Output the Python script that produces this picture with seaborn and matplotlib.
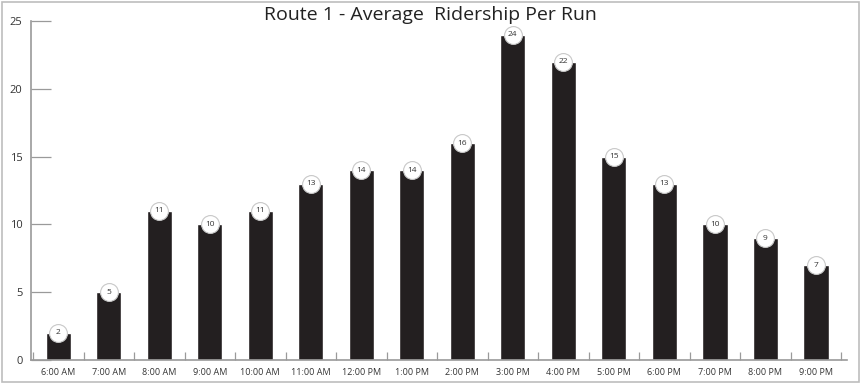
import numpy as np
import pandas as pd
import matplotlib
matplotlib.use('Agg')
import matplotlib.pyplot as plt
import seaborn as sns

# Data
times = ['6:00 AM', '7:00 AM', '8:00 AM', '9:00 AM', '10:00 AM', '11:00 AM', '12:00 PM',
         '1:00 PM', '2:00 PM', '3:00 PM', '4:00 PM', '5:00 PM', '6:00 PM', '7:00 PM',
         '8:00 PM', '9:00 PM']
riders = [2, 5, 11, 10, 11, 13, 14, 14, 16, 24, 22, 15, 13, 10, 9, 7]
yticks = [0, 5, 10, 15, 20, 25]

df = pd.DataFrame({'time': times, 'riders': riders})

sns.set_style('white')
plt.rcParams['font.family'] = ['Open Sans', 'DejaVu Sans']

fig = plt.figure(figsize=(8.61, 3.84), dpi=100)
ax = fig.add_axes([0.036, 0.0625, 0.948, 0.8825])

sns.barplot(data=df, x='time', y='riders', color='#231f20', width=0.5,
            saturation=1, ax=ax)

# value bubbles on the bar tops
ax.scatter(range(len(riders)), riders, s=165, color='white', edgecolor='#c8c8c8',
           linewidth=0.8, zorder=5, clip_on=False)
for i, v in enumerate(riders):
    ax.text(i, v, str(v), ha='center', va='center', fontsize=6, color='#333333', zorder=6)

ax.set_xlim(-0.54, 15.62)
ax.set_ylim(0, 25)
ax.set_yticks(yticks)
ax.set_xlabel('')
ax.set_ylabel('')
ax.spines[['top', 'right']].set_visible(False)
for s in ['left', 'bottom']:
    ax.spines[s].set_color('#9a9a9a')
    ax.spines[s].set_linewidth(1.2)

ax.tick_params(axis='y', direction='in', length=14.5, width=0.9, color='#9a9a9a',
               labelsize=8, labelcolor='#333333', pad=6, left=True)
ax.tick_params(axis='x', which='major', length=0, labelsize=6.5, labelcolor='#333333', pad=6)
ax.set_xticks(np.arange(-0.5, 15.6, 1), minor=True)
ax.tick_params(axis='x', which='minor', direction='in', length=6, width=0.9,
               color='#9a9a9a', bottom=True)

fig.text(0.5, 0.962, 'Route 1 - Average  Ridership Per Run', ha='center', va='center',
         fontsize=14, color='#222222')

# figure frame
fig.patches.append(plt.Rectangle((0.002, 0.004), 0.996, 0.992, transform=fig.transFigure,
                                 fill=False, edgecolor='#bdbdbd', linewidth=1.2))

fig.savefig('out.png', dpi=100)
